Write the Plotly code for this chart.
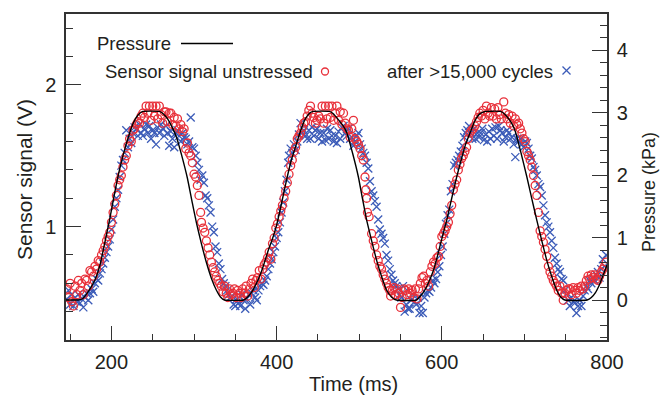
import plotly.graph_objects as go

# ---------------- data ----------------
pressure_t = [145, 150, 155, 160, 165, 170, 175, 180, 186, 192, 198, 204, 210, 218, 226, 232, 238,
              258, 263, 268, 273, 279, 285, 292, 298, 303, 309, 315, 321, 327, 332, 337,
              360, 365, 370, 375, 380, 384, 390, 395, 400, 406, 412, 418, 424, 428, 434, 439, 444,
              464, 469, 474, 480, 485, 492, 499, 504, 509, 515, 521, 527, 533, 539, 545,
              569, 574, 579, 584, 590, 595, 600, 606, 612, 618, 624, 629, 634, 640, 646, 653,
              671, 676, 681, 685, 689, 696, 703, 709, 715, 721, 727, 733, 739, 744, 749,
              776, 781, 786, 791, 796, 800]
pressure_kpa = [0.0, 0.0, 0.0, 0.0, 0.02, 0.1, 0.2, 0.32, 0.55, 0.92, 1.3, 1.72, 2.1, 2.5, 2.82, 2.96, 3.02,
                3.02, 2.98, 2.9, 2.78, 2.6, 2.32, 1.95, 1.55, 1.23, 0.9, 0.6, 0.35, 0.16, 0.05, 0.0,
                0.0, 0.05, 0.13, 0.25, 0.4, 0.55, 0.8, 0.98, 1.2, 1.55, 1.92, 2.25, 2.5, 2.67, 2.88, 2.98, 3.02,
                3.02, 2.98, 2.9, 2.8, 2.68, 2.35, 1.97, 1.62, 1.28, 0.95, 0.64, 0.38, 0.16, 0.05, 0.0,
                0.0, 0.06, 0.15, 0.28, 0.48, 0.72, 0.98, 1.28, 1.63, 1.97, 2.27, 2.5, 2.67, 2.87, 2.98, 3.02,
                3.02, 2.98, 2.9, 2.82, 2.7, 2.35, 1.97, 1.62, 1.28, 0.95, 0.64, 0.38, 0.16, 0.05, 0.0,
                0.0, 0.04, 0.12, 0.25, 0.42, 0.56]

red_t = [146, 148, 150, 152, 154, 156, 158, 160, 162, 164, 166, 168, 170, 172, 174, 176, 178, 180,
         182, 184, 186, 188, 190, 192, 194, 196, 198, 200, 202, 204, 206, 208, 210, 212, 214, 216,
         218, 220, 222, 224, 226, 228, 230, 232, 234, 236, 238, 240, 242, 244, 246, 248, 250, 252,
         254, 256, 258, 260, 262, 264, 266, 268, 270, 272, 274, 276, 278, 280, 282, 284, 286, 288,
         290, 292, 294, 296, 298, 300, 302, 304, 306, 308, 309, 311, 313, 315, 317, 319, 321, 323,
         325, 327, 329, 331, 333, 335, 337, 339, 341, 343, 345, 347,
         349, 351, 353, 355, 357, 359, 361, 363, 365, 367, 369, 371, 373, 375, 377, 379, 381, 383,
         385, 387, 389, 391, 393, 395, 397, 399, 401, 403, 405, 407, 409, 411, 413, 415, 417, 419,
         421, 423, 425, 427, 429, 431, 433, 435, 437, 439, 441, 443, 445, 447, 449, 451, 453, 455,
         457, 459, 461, 463, 465, 467, 469, 471, 473, 475, 477, 479, 481, 483, 485, 487, 489, 491,
         493, 495, 497, 499, 501, 503, 505, 507, 508, 509, 510, 512, 515, 517, 519, 521, 523, 525,
         527, 529, 531, 533, 535, 537, 538, 540, 542, 544, 546, 548, 550,
         552, 554, 556, 558, 560, 562, 564, 566, 568, 570, 572, 574, 576, 578, 580, 582, 584, 586,
         588, 590, 592, 594, 596, 598, 600, 602, 604, 606, 608, 610, 612, 614, 616, 618, 620, 622,
         624, 626, 628, 630, 632, 634, 636, 638, 640, 642, 644, 646, 648, 650, 652, 654, 656, 658,
         660, 662, 664, 666, 668, 670, 672, 675, 677, 679, 681, 683, 685, 687, 689, 691, 693, 695,
         697, 699, 701, 703, 705, 707, 709, 711, 713, 715, 717, 719, 721, 723, 725, 727, 729, 731,
         733, 735, 737, 739, 741, 743, 745, 747, 749, 751, 753, 755, 757, 759, 761, 763, 765, 767,
         769, 771, 773, 775, 777, 779, 781, 783, 785, 787, 789, 791, 793, 795, 797, 799]
red_v = [0.56, 0.50, 0.60, 0.47, 0.44, 0.58, 0.52, 0.62, 0.55, 0.60, 0.52, 0.63, 0.62, 0.58, 0.69, 0.68, 0.65, 0.72,
         0.70, 0.76, 0.75, 0.80, 0.83, 0.86, 0.90, 0.93, 0.96, 1.03, 1.10, 1.16, 1.22, 1.29, 1.33, 1.36, 1.42, 1.47,
         1.50, 1.57, 1.62, 1.60, 1.68, 1.69, 1.72, 1.74, 1.73, 1.78, 1.80, 1.77, 1.85, 1.80, 1.85, 1.75, 1.85, 1.78,
         1.85, 1.76, 1.85, 1.79, 1.73, 1.81, 1.81, 1.74, 1.80, 1.80, 1.72, 1.77, 1.71, 1.76, 1.69, 1.72, 1.67, 1.69,
         1.55, 1.59, 1.52, 1.50, 1.45, 1.37, 1.35, 1.29, 1.22, 1.10, 1.03, 0.99, 0.96, 0.90, 0.85, 0.80, 0.75, 0.71,
         0.68, 0.65, 0.62, 0.60, 0.58, 0.54, 0.58, 0.53, 0.50, 0.56, 0.52, 0.53,
         0.56, 0.50, 0.55, 0.53, 0.50, 0.56, 0.53, 0.58, 0.51, 0.56, 0.60, 0.63, 0.57, 0.62, 0.64, 0.69, 0.63, 0.70,
         0.73, 0.75, 0.78, 0.82, 0.77, 0.88, 0.92, 0.99, 1.02, 1.07, 1.11, 1.15, 1.20, 1.25, 1.31, 1.37, 1.43, 1.47,
         1.53, 1.56, 1.62, 1.64, 1.66, 1.70, 1.73, 1.74, 1.78, 1.82, 1.85, 1.80, 1.77, 1.73, 1.75, 1.78, 1.76, 1.85,
         1.73, 1.85, 1.76, 1.85, 1.77, 1.85, 1.75, 1.80, 1.85, 1.75, 1.81, 1.72, 1.80, 1.73, 1.69, 1.68, 1.63, 1.69,
         1.75, 1.62, 1.60, 1.58, 1.55, 1.50, 1.47, 1.35, 1.26, 1.20, 1.10, 1.07, 0.95, 0.90, 0.86, 0.80, 0.76, 0.72,
         0.70, 0.66, 0.63, 0.60, 0.57, 0.55, 0.51, 0.55, 0.57, 0.52, 0.56, 0.53, 0.43,
         0.50, 0.56, 0.55, 0.52, 0.56, 0.53, 0.55, 0.50, 0.56, 0.49, 0.56, 0.60, 0.64, 0.65, 0.60, 0.62, 0.58, 0.68,
         0.72, 0.75, 0.74, 0.78, 0.79, 0.86, 0.93, 0.95, 0.97, 1.00, 1.03, 1.09, 1.15, 1.26, 1.30, 1.33, 1.40, 1.44,
         1.48, 1.50, 1.53, 1.56, 1.62, 1.66, 1.68, 1.69, 1.71, 1.74, 1.77, 1.80, 1.78, 1.82, 1.76, 1.85, 1.80, 1.78,
         1.84, 1.78, 1.83, 1.76, 1.84, 1.79, 1.76, 1.88, 1.80, 1.76, 1.79, 1.73, 1.78, 1.71, 1.76, 1.72, 1.73, 1.69,
         1.66, 1.62, 1.60, 1.53, 1.50, 1.47, 1.42, 1.36, 1.29, 1.22, 1.10, 0.97, 0.93, 0.89, 0.84, 0.79, 0.72, 0.68,
         0.65, 0.62, 0.60, 0.58, 0.55, 0.58, 0.53, 0.48, 0.53, 0.55, 0.56, 0.56, 0.52, 0.57, 0.55, 0.53, 0.57, 0.55,
         0.58, 0.56, 0.58, 0.62, 0.65, 0.63, 0.66, 0.64, 0.66, 0.63, 0.62, 0.65, 0.68, 0.70, 0.72, 0.75]

blue_t = [146, 148, 150, 152, 154, 156, 158, 160, 162, 164, 166, 168, 170, 172, 174, 176, 178, 180,
          182, 184, 186, 188, 190, 192, 194, 196, 198, 200, 202, 204, 206, 208, 210, 212, 214, 216,
          218, 220, 222, 224, 226, 228, 230, 232, 234, 236, 238, 240, 242, 244, 246, 248, 250, 252,
          254, 256, 258, 260, 262, 264, 266, 268, 270, 272, 274, 276, 278, 280, 282, 284, 286, 288,
          290, 292, 294, 296, 298, 300, 302, 304, 306, 308, 310, 312, 314, 316, 318, 320, 322, 324,
          326, 328, 330, 332, 334, 336, 338, 340, 342, 344, 346, 348,
          350, 352, 354, 356, 358, 360, 362, 364, 366, 368, 370, 372, 374, 376, 378, 380, 382, 384,
          386, 388, 390, 392, 394, 396, 398, 400, 402, 404, 406, 408, 410, 412, 414, 415, 417, 419,
          421, 423, 425, 427, 429, 431, 433, 435, 437, 439, 441, 443, 445, 447, 449, 451, 453, 455,
          457, 459, 461, 463, 465, 467, 469, 471, 473, 475, 477, 479, 481, 483, 485, 487, 489, 491,
          493, 495, 497, 499, 501, 503, 505, 507, 509, 511, 513, 515, 517, 519, 521, 523, 525, 527,
          529, 531, 533, 535, 537, 539, 541, 543, 545, 547, 549, 551,
          553, 555, 557, 559, 561, 563, 565, 567, 569, 571, 573, 575, 577, 579, 581, 583, 585, 587,
          589, 591, 593, 595, 597, 599, 601, 603, 605, 607, 609, 611, 613, 615, 617, 619, 621, 623,
          625, 627, 629, 631, 633, 635, 637, 639, 641, 643, 645, 647, 649, 651, 653, 655, 657, 659,
          661, 663, 665, 667, 669, 671, 673, 675, 677, 679, 681, 683, 685, 687, 689, 691, 693, 695,
          697, 699, 701, 703, 705, 707, 709, 711, 713, 715, 717, 719, 721, 723, 725, 727, 729, 731,
          733, 735, 737, 739, 741, 743, 745, 747, 749, 751, 753, 755, 757, 759, 761, 763, 765, 767,
          769, 771, 773, 775, 777, 779, 781, 783, 785, 787, 789, 791, 793, 795, 797, 799]
blue_v = [0.49, 0.55, 0.45, 0.52, 0.44, 0.50, 0.47, 0.52, 0.46, 0.49, 0.43, 0.50, 0.53, 0.48, 0.53, 0.56, 0.54, 0.60,
          0.63, 0.62, 0.67, 0.70, 0.74, 0.78, 0.82, 0.86, 0.91, 0.98, 1.05, 1.14, 1.20, 1.26, 1.35, 1.43, 1.47, 1.52,
          1.68, 1.56, 1.62, 1.59, 1.66, 1.70, 1.69, 1.64, 1.72, 1.66, 1.64, 1.69, 1.72, 1.66, 1.71, 1.62, 1.68, 1.66,
          1.58, 1.70, 1.66, 1.72, 1.69, 1.64, 1.71, 1.66, 1.57, 1.67, 1.62, 1.56, 1.66, 1.68, 1.64, 1.60, 1.66, 1.63,
          1.62, 1.58, 1.60, 1.77, 1.56, 1.55, 1.50, 1.45, 1.40, 1.33, 1.36, 1.31, 1.22, 1.20, 1.15, 1.10, 1.00, 0.96,
          0.86, 0.82, 0.74, 0.70, 0.63, 0.60, 0.58, 0.55, 0.52, 0.50, 0.51, 0.45,
          0.44, 0.49, 0.46, 0.44, 0.52, 0.48, 0.42, 0.49, 0.52, 0.45, 0.53, 0.55, 0.50, 0.48, 0.55, 0.58, 0.60, 0.59,
          0.62, 0.65, 0.70, 0.74, 0.77, 0.82, 0.86, 0.92, 0.96, 1.03, 1.10, 1.17, 1.25, 1.33, 1.45, 1.50, 1.55, 1.52,
          1.58, 1.54, 1.60, 1.65, 1.73, 1.66, 1.68, 1.64, 1.62, 1.68, 1.62, 1.70, 1.64, 1.68, 1.69, 1.62, 1.66, 1.60,
          1.66, 1.61, 1.69, 1.62, 1.68, 1.64, 1.60, 1.64, 1.59, 1.67, 1.62, 1.70, 1.71, 1.66, 1.64, 1.69, 1.62, 1.63,
          1.57, 1.60, 1.64, 1.66, 1.58, 1.55, 1.52, 1.50, 1.45, 1.41, 1.32, 1.25, 1.22, 1.18, 1.14, 1.05, 0.98, 0.95,
          0.92, 0.88, 0.80, 0.76, 0.70, 0.66, 0.62, 0.60, 0.58, 0.56, 0.52, 0.50,
          0.58, 0.40, 0.45, 0.42, 0.42, 0.48, 0.52, 0.47, 0.45, 0.50, 0.39, 0.44, 0.39, 0.50, 0.53, 0.55, 0.54, 0.57,
          0.62, 0.60, 0.63, 0.68, 0.72, 0.80, 0.86, 0.95, 1.02, 1.08, 1.12, 1.25, 1.30, 1.43, 1.45, 1.47, 1.50, 1.53,
          1.57, 1.63, 1.66, 1.68, 1.71, 1.66, 1.62, 1.69, 1.62, 1.66, 1.63, 1.66, 1.69, 1.61, 1.65, 1.60, 1.67, 1.62,
          1.69, 1.64, 1.70, 1.62, 1.71, 1.68, 1.66, 1.60, 1.63, 1.68, 1.66, 1.62, 1.63, 1.58, 1.49, 1.62, 1.60, 1.62,
          1.58, 1.56, 1.60, 1.59, 1.55, 1.50, 1.48, 1.42, 1.40, 1.36, 1.30, 1.28, 1.22, 1.15, 1.08, 1.03, 1.00, 0.96,
          0.90, 0.85, 0.78, 0.74, 0.70, 0.68, 0.63, 0.62, 0.55, 0.52, 0.48, 0.44, 0.50, 0.47, 0.46, 0.39, 0.44, 0.48,
          0.44, 0.51, 0.55, 0.58, 0.56, 0.62, 0.60, 0.63, 0.62, 0.66, 0.68, 0.64, 0.70, 0.77, 0.72, 0.80]

x_tickvals = [200, 400, 600, 800]
v_tickvals = [1, 2]
p_tickvals = [0, 1, 2, 3, 4]

legend_labels = ["Pressure", "Sensor signal unstressed", "after >15,000 cycles"]
x_title = "Time (ms)"
y_title = "Sensor signal (V)"
y2_title = "Pressure (kPa)"

# ---------------- styling ----------------
RED = "#e8303a"
BLUE = "#3b5bb8"
AX = "#333333"
TXT = "#231f20"
FONT = "Liberation Sans, Arial, Helvetica, sans-serif"

fig = go.Figure()
fig.add_trace(go.Scatter(
    x=blue_t, y=blue_v, mode="markers", yaxis="y",
    marker=dict(symbol="x-thin-open", size=8, color=BLUE, line=dict(color=BLUE, width=1.3)),
))
fig.add_trace(go.Scatter(
    x=red_t, y=red_v, mode="markers", yaxis="y",
    marker=dict(symbol="circle-open", size=8, color=RED, line=dict(color=RED, width=1.3)),
))
fig.add_trace(go.Scatter(
    x=pressure_t, y=pressure_kpa, mode="lines", yaxis="y2",
    line=dict(color="black", width=1.4, shape="spline", smoothing=0.4),
))

tickfont = dict(family=FONT, size=20, color=TXT)
fig.update_layout(
    width=661, height=397,
    margin=dict(l=66, r=54, t=14, b=57),
    paper_bgcolor="white", plot_bgcolor="white",
    showlegend=False,
    font=dict(family=FONT, color=TXT),
    xaxis=dict(
        range=[145, 800], tickvals=x_tickvals, ticks="inside", ticklen=14, tickwidth=1.3,
        tickcolor=AX, showline=True, linecolor=AX, linewidth=1.5, mirror=True,
        showgrid=False, zeroline=False, tickfont=tickfont, ticklabelstandoff=3,
        minor=dict(ticks="inside", ticklen=6, tickwidth=1.2, tickcolor=AX, dtick=50, tick0=0, showgrid=False),
    ),
    yaxis=dict(
        range=[0.2, 2.5], tickvals=v_tickvals, ticks="inside", ticklen=15, tickwidth=1.3,
        tickcolor=AX, showline=True, linecolor=AX, linewidth=1.5,
        showgrid=False, zeroline=False, tickfont=tickfont, ticklabelstandoff=4,
        minor=dict(ticks="inside", ticklen=7, tickwidth=1.2, tickcolor=AX, dtick=0.2, tick0=0, showgrid=False),
    ),
    yaxis2=dict(
        range=[-0.64, 4.58], tickvals=p_tickvals, ticks="inside", ticklen=15, tickwidth=1.3,
        tickcolor=AX, showline=True, linecolor=AX, linewidth=1.5, overlaying="y", side="right",
        showgrid=False, zeroline=False, tickfont=tickfont, ticklabelstandoff=4,
        minor=dict(ticks="inside", ticklen=7, tickwidth=1.2, tickcolor=AX, dtick=0.2, tick0=0, showgrid=False),
    ),
)

def px_x(p):
    return (p - 66) / 541.0

def px_y(p):
    return (340 - p) / 326.0

annotations = [
    dict(text=x_title, x=px_x(353), y=px_y(384), xref="paper", yref="paper",
         xanchor="center", yanchor="middle", showarrow=False, font=dict(size=20, color=TXT)),
    dict(text=y_title, x=px_x(25), y=px_y(180), xref="paper", yref="paper", textangle=-90,
         xanchor="center", yanchor="middle", showarrow=False, font=dict(size=21, color=TXT)),
    dict(text=y2_title, x=px_x(649), y=px_y(192), xref="paper", yref="paper", textangle=-90,
         xanchor="center", yanchor="middle", showarrow=False, font=dict(size=18, color=TXT)),
    dict(text=legend_labels[0], x=px_x(173), y=px_y(43.5), xref="paper", yref="paper",
         xanchor="right", yanchor="middle", showarrow=False, font=dict(size=18.5, color=TXT)),
    dict(text=legend_labels[1], x=px_x(315), y=px_y(71.5), xref="paper", yref="paper",
         xanchor="right", yanchor="middle", showarrow=False, font=dict(size=18.5, color=TXT)),
    dict(text=legend_labels[2], x=px_x(555), y=px_y(71.5), xref="paper", yref="paper",
         xanchor="right", yanchor="middle", showarrow=False, font=dict(size=18.5, color=TXT)),
]
fig.update_layout(annotations=annotations)

shapes = [
    # pressure legend line
    dict(type="line", xref="paper", yref="paper", x0=px_x(181), x1=px_x(233), y0=px_y(43.5), y1=px_y(43.5),
         line=dict(color="black", width=1.4)),
    # red circle legend sample
    dict(type="circle", xref="paper", yref="paper", xsizemode="pixel", ysizemode="pixel",
         xanchor=px_x(325), yanchor=px_y(71.5), x0=-3.5, x1=3.5, y0=-3.5, y1=3.5,
         line=dict(color=RED, width=1.3)),
    # blue x legend sample
    dict(type="line", xref="paper", yref="paper", xsizemode="pixel", ysizemode="pixel",
         xanchor=px_x(566.5), yanchor=px_y(70.5), x0=-4, x1=4, y0=-4, y1=4,
         line=dict(color=BLUE, width=1.3)),
    dict(type="line", xref="paper", yref="paper", xsizemode="pixel", ysizemode="pixel",
         xanchor=px_x(566.5), yanchor=px_y(70.5), x0=-4, x1=4, y0=4, y1=-4,
         line=dict(color=BLUE, width=1.3)),
]
fig.update_layout(shapes=shapes)

fig.write_html("out.html")
